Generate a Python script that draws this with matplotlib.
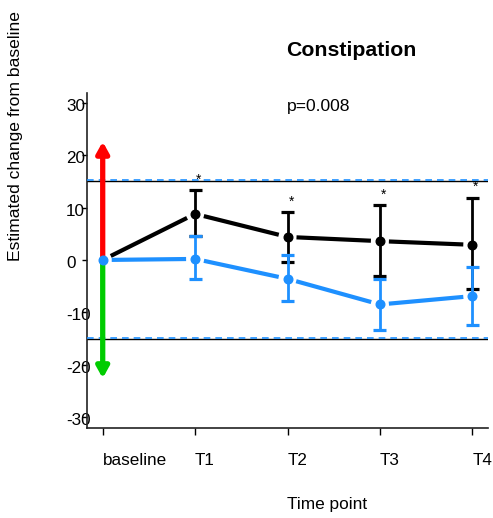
import matplotlib
matplotlib.use("Agg")
import matplotlib.pyplot as plt
import matplotlib.transforms as mtransforms
import numpy as np

plt.rcParams['font.family'] = ['Liberation Sans', 'DejaVu Sans']

categories = ["baseline", "T1", "T2", "T3", "T4"]
black_mean = [0, 8.8, 4.4, 3.6, 2.9]
black_low = [0, 4.6, -0.3, -3.1, -5.5]
black_high = [0, 13.4, 9.1, 10.5, 11.9]
blue_mean = [0, 0.2, -3.6, -8.5, -6.9]
blue_low = [0, -3.6, -7.8, -13.4, -12.4]
blue_high = [0, 4.5, 0.9, -3.6, -1.3]
ref_lines = [15.1, -15.1]
yticks = [-30, -20, -10, 0, 10, 20, 30]
arrow_up = 22.6
arrow_down = -22.6
title = "Constipation"
ptext = "p=0.008"

BLUE = "#1E90FF"
W, H = 493, 518
fig = plt.figure(figsize=(W/100, H/100), dpi=100)
ax = fig.add_axes([87/W, 1-428/H, (488-87)/W, (428-93)/H])
ax.set_xlim(-0.17, 4.17)
ax.set_ylim(-32.1, 31.9)
x = np.arange(len(categories))

for s in ['top', 'right']:
    ax.spines[s].set_visible(False)
for s in ['left', 'bottom']:
    ax.spines[s].set_linewidth(1.2)
    ax.spines[s].set_color('#222222')

ax.set_yticks(yticks)
ax.set_yticklabels([str(v) for v in yticks])
ax.set_xticks(x)
ax.set_xticklabels(categories)
ax.tick_params(axis='y', direction='out', length=3.5, width=1, pad=11.5, labelsize=12.3)
ax.tick_params(axis='x', direction='out', length=5, width=1, pad=13, labelsize=12.3)
yoff = mtransforms.ScaledTranslation(0, -2/100, fig.dpi_scale_trans)
for lab in ax.get_yticklabels():
    lab.set_horizontalalignment('left')
    lab.set_transform(lab.get_transform() + yoff)
for lab in ax.get_xticklabels():
    lab.set_horizontalalignment('left')

# reference lines
for r in ref_lines:
    ax.axhline(r, color='black', lw=1, zorder=2)
    ax.axhline(r + 0.15, color=BLUE, lw=1.2, ls=(0, (4, 3)), zorder=3)

# arrows at baseline
ax.annotate("", xy=(x[0], arrow_up), xytext=(x[0], 0),
            arrowprops=dict(arrowstyle='-|>,head_length=0.65,head_width=0.36', color='#FF0000', lw=3.8,
                            shrinkA=0, shrinkB=0), zorder=4)
ax.annotate("", xy=(x[0], arrow_down), xytext=(x[0], 0),
            arrowprops=dict(arrowstyle='-|>,head_length=0.65,head_width=0.36', color='#00CC00', lw=3.8,
                            shrinkA=0, shrinkB=0), zorder=4)

fig.canvas.draw()
trans = ax.transData
inv = trans.inverted()

def gapped_line(xs, ys, color, gap=9):
    for i in range(len(xs) - 1):
        p0 = trans.transform((xs[i], ys[i]))
        p1 = trans.transform((xs[i+1], ys[i+1]))
        d = p1 - p0
        L = np.hypot(*d)
        u = d / L
        a = inv.transform(p0 + u * gap)
        b = inv.transform(p1 - u * gap)
        ax.plot([a[0], b[0]], [a[1], b[1]], color=color, lw=3, solid_capstyle='butt', zorder=5)

gapped_line(x, black_mean, 'black')
gapped_line(x, blue_mean, BLUE)

# error bars
for xs, m, lo, hi, c in [(x[1:], black_mean[1:], black_low[1:], black_high[1:], 'black'),
                         (x[1:], blue_mean[1:], blue_low[1:], blue_high[1:], BLUE)]:
    ax.vlines(xs, lo, hi, color=c, lw=2, zorder=6)
    ax.hlines(lo, xs - 0.07, xs + 0.07, color=c, lw=2.3, zorder=6)
    ax.hlines(hi, xs - 0.07, xs + 0.07, color=c, lw=2.3, zorder=6)

ax.plot(x[1:], black_mean[1:], 'o', color='black', ms=6.2, zorder=7)
ax.plot(x, blue_mean, 'o', color=BLUE, ms=6.2, zorder=7)

for xi, h in zip(x[1:], black_high[1:]):
    ax.text(xi + 0.04, h + 2.0, "*", ha='center', va='center', fontsize=10, zorder=8)

fig.text(351/W, 1-50/H, title, ha='center', va='center', fontsize=15.3, fontweight='bold')
fig.text(287/W, 1-106/H, ptext, ha='left', va='center', fontsize=12.6)
fig.text(16/W, 1-136/H, "Estimated change from baseline", rotation=90, ha='center', va='center', fontsize=12.6)
fig.text(327/W, 1-505/H, "Time point", ha='center', va='center', fontsize=12.4)

fig.savefig("out.png", dpi=100)
